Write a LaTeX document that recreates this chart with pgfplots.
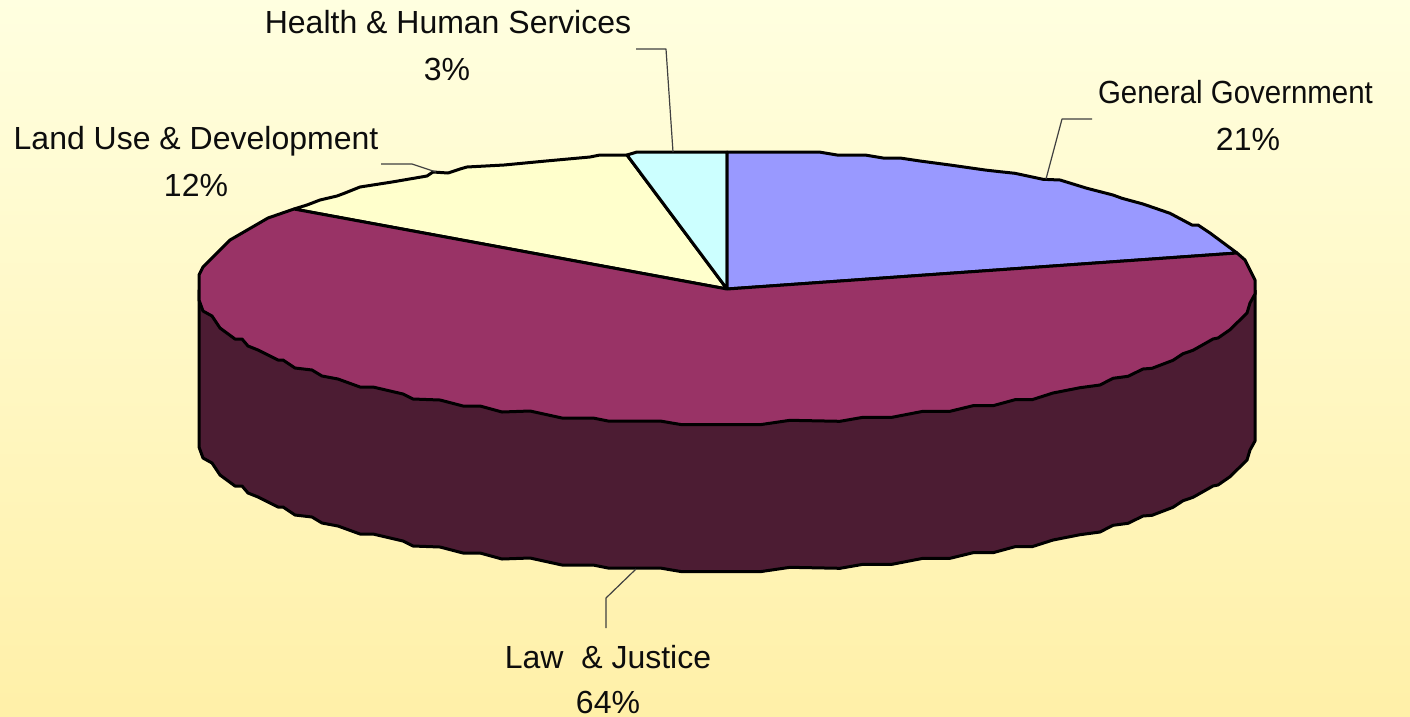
\documentclass[border=0pt]{standalone}
\usepackage{graphicx}
\usepackage{pgfplots}
\pgfplotsset{compat=1.18}
\usepackage{fontspec}
\setmainfont{Liberation Sans}
\definecolor{govc}{HTML}{9999FF}
\definecolor{lawc}{HTML}{993366}
\definecolor{landc}{HTML}{FFFFCC}
\definecolor{healthc}{HTML}{CCFFFF}
\definecolor{sidec}{HTML}{4C1C33}
\definecolor{leadc}{HTML}{404040}
\definecolor{bgtop}{HTML}{FFFFE0}
\definecolor{bgbot}{HTML}{FFF0A8}
\tikzset{
  slice/.style={draw=black, line width=3pt},
  leader/.style={draw=leadc, line width=1.2pt},
  lab/.style={anchor=base, inner sep=0pt, font=\fontsize{32}{36}\selectfont, text=black!95},
}
\begin{document}
\begin{tikzpicture}
\begin{axis}[
  hide axis, scale only axis, width=1410pt, height=716pt,
  xmin=0, xmax=1410, ymin=0, ymax=716, y dir=reverse,
  clip=false,
  every axis plot/.append style={no markers, line join=round},
]
\path[top color=bgtop, bottom color=bgbot] (axis cs:0,0) rectangle (axis cs:1410,716);
% side wall
\addplot[slice, fill=sidec] coordinates {
 (1255,290) (1255,441) (1250,450) (1247,460) (1230,476.7) (1218,485) (1213,486) (1193,497.3) (1183,500.7)
 (1173,507.3) (1152,515.3) (1143,516) (1128,523.3) (1113,525.3) (1100,532) (1080,534.7) (1053,540)
 (1032,546.7) (1015,546.7) (993,552.7) (973,552.7) (950,558.3) (923,558.3) (892,564.3) (863,564.3)
 (840,568.3) (790,567.3) (760,571.7) (682,571.7) (660,568) (608,568) (593,565) (562,565) (530,558)
 (502,559) (480,553) (463,553) (440,547) (413,546) (403,541) (373,534) (360,534) (338,526) (322,523)
 (312,517) (295,515) (283,507) (278,507) (258,497) (248,493) (242,486) (235,486) (220,475) (212,463)
 (203,458) (199,447) (199,290) (1255,290)
};
% Land Use & Development
\addplot[slice, fill=landc] coordinates {
 (727,289) (294,209) (307,205) (320,200) (337,196) (345,193) (360,187) (392,182) (427,176) (433,172)
 (448,173) (460,169) (467,167) (504,165) (546,161) (590,157) (600,155) (627,155) (727,289)
};
% Health & Human Services
\addplot[slice, fill=healthc] coordinates {
 (727,289) (627,155) (637,152) (727,152) (727,289)
};
% General Government
\addplot[slice, fill=govc] coordinates {
 (727,289) (727,152) (819,152) (837,155) (865,155) (883,158) (900,158) (920,161) (950,165) (985,170)
 (1000,171.7) (1015,173.3) (1043,179.3) (1060,180) (1087,188.3) (1113,195) (1122,198.3) (1143,204)
 (1170,213.3) (1192,225) (1198,225) (1210,233) (1237,253) (727,289)
};
% Law & Justice
\addplot[slice, fill=lawc] coordinates {
 (727,289) (1237,253) (1245,260) (1250,270) (1255,280) (1255,294) (1250,303) (1247,313) (1230,329.7)
 (1218,338) (1213,339) (1193,350.3) (1183,353.7) (1173,360.3) (1152,368.3) (1143,369) (1128,376.3)
 (1113,378.3) (1100,385) (1080,387.7) (1053,393) (1032,399.7) (1015,399.7) (993,405.7) (973,405.7)
 (950,411.3) (923,411.3) (892,417.3) (863,417.3) (840,421.3) (790,420.3) (760,424.7) (682,424.7)
 (660,421) (608,421) (593,418) (562,418) (530,411) (502,412) (480,406) (463,406) (440,400) (413,399)
 (403,394) (373,387) (360,387) (338,379) (322,376) (312,370) (295,368) (283,360) (278,360) (258,350)
 (248,346) (242,339) (235,339) (220,328) (212,316) (203,311) (199,300) (199,275) (203,267) (230,240)
 (268,218) (294,209) (727,289)
};
% leader lines
\addplot[leader] coordinates {(636,49) (666,49) (673,152)};
\addplot[leader] coordinates {(1092,119) (1062,119) (1046,179)};
\addplot[leader] coordinates {(381,164) (412,164) (436,172)};
\addplot[leader] coordinates {(606,628) (606,598) (636,569)};
% labels
\node[lab] at (axis cs:448,33) {Health \& Human Services};
\node[lab] at (axis cs:447,80) {3\%};
\node[lab] at (axis cs:1235.5,103) {\scalebox{0.92}[1]{General Government}};
\node[lab] at (axis cs:1248,150) {21\%};
\node[lab] at (axis cs:196,149) {Land Use \& Development};
\node[lab] at (axis cs:196,196) {12\%};
\node[lab] at (axis cs:608,668) {Law\ \ \& Justice};
\node[lab] at (axis cs:608,713) {64\%};
\end{axis}
\end{tikzpicture}
\end{document}
